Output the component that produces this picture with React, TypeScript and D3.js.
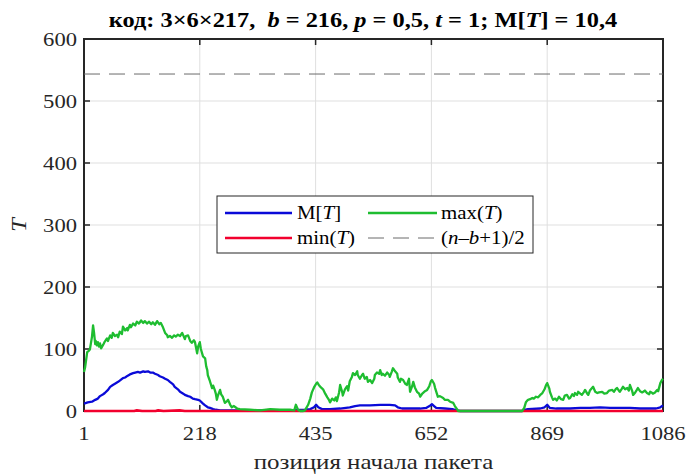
import React from "react";
import * as d3 from "d3";

// Axis ticks
const xTicks = [1, 218, 435, 652, 869, 1086];
const yTicks = [0, 100, 200, 300, 400, 500, 600];

// Reference level (n - b + 1) / 2
const halfLevel = 543.5;

// M[T] — mean, [position, value]
const meanT: [number, number][] = [
  [1, 12], [8, 14], [16, 15], [22, 18], [27, 20], [31, 24], [37, 27], [40, 29], [46, 34], [50, 39],
  [55, 42], [59, 44], [65, 47], [68, 49], [74, 53], [78, 54], [83, 57], [87, 59], [93, 61], [97, 62],
  [102, 63], [106, 62], [112, 64], [115, 63], [121, 64], [125, 62], [130, 62], [134, 60], [140, 58],
  [143, 56], [149, 54], [153, 52], [158, 50], [162, 47], [168, 43], [171, 39], [177, 35], [181, 31],
  [187, 28], [190, 26], [196, 24], [200, 23], [205, 20], [209, 19], [215, 18], [218, 17], [224, 12],
  [228, 9], [233, 6], [237, 5], [243, 3], [248, 2], [256, 1], [275, 1], [331, 1], [387, 1], [415, 2],
  [425, 3], [432, 6], [436, 10], [440, 6], [447, 3], [462, 3], [481, 4], [499, 6], [509, 8], [518, 9],
  [537, 9], [556, 10], [574, 10], [584, 9], [589, 6], [597, 4], [612, 4], [631, 4], [642, 5], [650, 9],
  [653, 11], [657, 8], [661, 5], [677, 4], [691, 3], [700, 1], [706, 0], [822, 0], [826, 2], [833, 3],
  [856, 4], [864, 6], [869, 10], [874, 5], [886, 4], [912, 4], [931, 5], [949, 5], [968, 6], [987, 5],
  [1005, 5], [1024, 5], [1043, 4], [1062, 4], [1073, 4], [1081, 6], [1086, 9],
];

// min(T)
const minT: [number, number][] = [
  [1, 0], [95, 0], [100, 1], [110, 0], [135, 0], [140, 1], [150, 0], [180, 1], [190, 0],
  [400, 0], [700, 0], [822, 0], [1086, 0],
];

// max(T)
const maxT: [number, number][] = [
  [1, 63], [3, 70], [7, 95], [10, 97], [12, 99], [16, 120], [18, 138], [20, 125], [22, 108], [23, 113],
  [25, 106], [27, 111], [29, 104], [31, 109], [33, 101], [37, 107], [40, 112], [44, 117], [46, 113],
  [50, 122], [53, 118], [55, 126], [59, 121], [63, 123], [65, 119], [68, 128], [72, 124], [74, 136],
  [78, 130], [82, 134], [83, 130], [87, 139], [89, 135], [93, 141], [97, 138], [100, 144], [104, 141],
  [108, 146], [112, 142], [115, 145], [119, 141], [123, 144], [127, 140], [130, 143], [134, 139],
  [138, 145], [142, 140], [145, 142], [149, 135], [153, 126], [157, 122], [158, 119], [162, 121],
  [166, 118], [170, 122], [173, 120], [177, 123], [181, 121], [185, 126], [188, 120], [190, 116],
  [192, 121], [196, 122], [200, 113], [203, 110], [207, 114], [209, 111], [213, 93], [215, 104],
  [218, 111], [220, 100], [224, 88], [228, 85], [230, 72], [232, 66], [233, 58], [237, 48], [241, 37],
  [243, 41], [246, 34], [248, 28], [250, 18], [252, 25], [256, 34], [258, 27], [261, 23], [265, 13],
  [269, 16], [271, 18], [275, 10], [278, 6], [282, 8], [288, 4], [293, 3], [312, 2], [331, 1], [350, 3],
  [368, 2], [387, 2], [395, 1], [398, 10], [402, 2], [406, 0], [412, 0], [415, 1], [421, 10], [425, 20],
  [428, 30], [432, 38], [436, 44], [438, 46], [441, 42], [445, 38], [449, 35], [453, 28], [457, 22],
  [460, 18], [462, 14], [466, 20], [470, 17], [473, 22], [475, 16], [479, 30], [481, 42], [485, 30],
  [486, 25], [490, 35], [494, 40], [496, 33], [499, 48], [503, 55], [505, 61], [509, 58], [513, 64],
  [514, 58], [518, 52], [522, 58], [524, 60], [527, 52], [531, 55], [533, 47], [537, 50], [541, 45],
  [545, 52], [546, 58], [550, 62], [554, 60], [556, 66], [559, 58], [561, 60], [565, 57], [569, 62],
  [573, 58], [574, 55], [578, 64], [580, 69], [584, 64], [588, 60], [589, 54], [593, 47], [595, 52],
  [599, 50], [603, 44], [606, 42], [610, 52], [612, 31], [616, 40], [618, 47], [621, 38], [625, 31],
  [629, 28], [631, 23], [634, 27], [636, 29], [640, 32], [644, 34], [648, 40], [651, 48], [653, 50],
  [657, 44], [659, 37], [663, 26], [664, 23], [668, 24], [674, 21], [677, 18], [683, 18], [687, 15],
  [693, 13], [696, 8], [700, 3], [702, 0], [822, 0], [826, 5], [829, 14], [833, 18], [837, 19],
  [841, 21], [844, 20], [848, 23], [852, 22], [856, 26], [860, 29], [864, 35], [867, 42], [869, 45],
  [873, 36], [874, 31], [878, 22], [880, 18], [884, 20], [887, 17], [891, 23], [895, 19], [899, 18],
  [902, 25], [906, 26], [910, 20], [912, 21], [916, 27], [919, 24], [921, 29], [925, 26], [927, 31],
  [931, 28], [934, 26], [938, 31], [940, 34], [944, 28], [946, 26], [949, 33], [953, 37], [955, 39],
  [959, 31], [963, 29], [966, 30], [972, 31], [976, 28], [981, 29], [985, 33], [991, 34], [994, 31],
  [998, 36], [1000, 37], [1004, 32], [1005, 31], [1009, 36], [1011, 39], [1015, 35], [1019, 37],
  [1022, 33], [1024, 42], [1028, 33], [1030, 26], [1034, 30], [1037, 34], [1039, 37], [1043, 32],
  [1047, 30], [1049, 31], [1052, 33], [1056, 29], [1060, 27], [1062, 31], [1066, 29], [1067, 28],
  [1071, 30], [1075, 34], [1077, 32], [1081, 45], [1084, 50], [1086, 52],
];

const W = 687;
const H = 474;
const M = { left: 84, right: 663, top: 39, bottom: 411 };

const FONT = '"Liberation Serif", "DejaVu Serif", serif';
const AX = "#262626";
const GRID = "#dfdfdf";
const C_MEAN = "#0a0ad8";
const C_MAX = "#1ebd30";
const C_MIN = "#f2002e";
const C_DASH = "#6a6a6a";

// glyphs are drawn slightly wider than tall
const SX = 1.16;

type TxtProps = {
  x: number;
  y: number;
  size: number;
  anchor?: "start" | "middle" | "end";
  rotate?: number;
  weight?: string;
  italic?: boolean;
  fill?: string;
  children: React.ReactNode;
};

function Txt({ x, y, size, anchor = "start", rotate = 0, weight, italic, fill = AX, children }: TxtProps) {
  const tf = rotate
    ? `translate(${x},${y}) rotate(${rotate}) scale(${SX},1)`
    : `translate(${x},${y}) scale(${SX},1)`;
  return (
    <text
      transform={tf}
      fontSize={size}
      textAnchor={anchor}
      fontWeight={weight}
      fontStyle={italic ? "italic" : undefined}
      fill={fill}
      style={{ fontFamily: FONT, whiteSpace: "pre" }}
    >
      {children}
    </text>
  );
}

export default function App() {
  const x = d3.scaleLinear().domain([1, 1086]).range([M.left, M.right]);
  const y = d3.scaleLinear().domain([0, 600]).range([M.bottom, M.top]);
  const line = d3
    .line<[number, number]>()
    .x((d) => x(d[0]))
    .y((d) => y(d[1]));

  const tickLen = 6;

  // legend layout
  const lg = { x: 217, y: 196, w: 316, h: 57 };
  const row1 = lg.y + 17;
  const row2 = lg.y + 42;
  const c1 = { x0: lg.x + 8, x1: lg.x + 75, tx: lg.x + 80 };
  const c2 = { x0: lg.x + 151, x1: lg.x + 220, tx: lg.x + 224 };
  const lgSize = 18;

  return (
    <svg
      width={W}
      height={H}
      viewBox={`0 0 ${W} ${H}`}
      style={{ position: "absolute", left: 0, top: 0, background: "#fff" }}
    >
      <rect x={0} y={0} width={W} height={H} fill="#fff" />

      {/* grid */}
      {xTicks.slice(1, -1).map((t) => (
        <line key={"gx" + t} x1={x(t)} x2={x(t)} y1={M.top} y2={M.bottom} stroke={GRID} strokeWidth={1} />
      ))}
      {yTicks.slice(1, -1).map((t) => (
        <line key={"gy" + t} x1={M.left} x2={M.right} y1={y(t)} y2={y(t)} stroke={GRID} strokeWidth={1} />
      ))}

      {/* ticks, inward on all sides */}
      {xTicks.map((t) => (
        <g key={"tx" + t}>
          <line x1={x(t)} x2={x(t)} y1={M.bottom} y2={M.bottom - tickLen} stroke={AX} strokeWidth={1.5} />
          <line x1={x(t)} x2={x(t)} y1={M.top} y2={M.top + tickLen} stroke={AX} strokeWidth={1.5} />
        </g>
      ))}
      {yTicks.map((t) => (
        <g key={"ty" + t}>
          <line x1={M.left} x2={M.left + tickLen} y1={y(t)} y2={y(t)} stroke={AX} strokeWidth={1.5} />
          <line x1={M.right} x2={M.right - tickLen} y1={y(t)} y2={y(t)} stroke={AX} strokeWidth={1.5} />
        </g>
      ))}

      {/* box */}
      <rect
        x={M.left}
        y={M.top}
        width={M.right - M.left}
        height={M.bottom - M.top}
        fill="none"
        stroke={AX}
        strokeWidth={2}
      />

      {/* reference level */}
      <line
        x1={M.left}
        x2={M.right}
        y1={y(halfLevel)}
        y2={y(halfLevel)}
        stroke={C_DASH}
        strokeWidth={1}
        strokeDasharray="16,9"
      />

      {/* series */}
      <path d={line(meanT) ?? ""} fill="none" stroke={C_MEAN} strokeWidth={2.3} strokeLinejoin="round" />
      <path d={line(minT) ?? ""} fill="none" stroke={C_MIN} strokeWidth={2.6} strokeLinejoin="round" />
      <path d={line(maxT) ?? ""} fill="none" stroke={C_MAX} strokeWidth={2.3} strokeLinejoin="round" />

      {/* tick labels */}
      {xTicks.map((t) => (
        <Txt key={"lx" + t} x={x(t)} y={M.bottom + 29} size={19.5} anchor="middle">
          {t}
        </Txt>
      ))}
      {yTicks.map((t) => (
        <Txt key={"ly" + t} x={M.left - 7} y={y(t) + 7} size={19.5} anchor="end">
          {t}
        </Txt>
      ))}

      {/* axis labels */}
      <Txt x={(M.left + M.right) / 2} y={469} size={21.5} anchor="middle">
        позиция начала пакета
      </Txt>
      <Txt x={26} y={(M.top + M.bottom) / 2} size={21.5} anchor="middle" rotate={-90} italic>
        T
      </Txt>

      {/* title */}
      <Txt x={363} y={27} size={21} anchor="middle" weight="bold" fill="#000">
        <tspan>{"код: 3×6×217,  "}</tspan>
        <tspan fontStyle="italic">b</tspan>
        <tspan>{" = 216, "}</tspan>
        <tspan fontStyle="italic">p</tspan>
        <tspan>{" = 0,5, "}</tspan>
        <tspan fontStyle="italic">t</tspan>
        <tspan>{" = 1; M["}</tspan>
        <tspan fontStyle="italic">T</tspan>
        <tspan>{"] = 10,4"}</tspan>
      </Txt>

      {/* legend */}
      <g>
        <rect x={lg.x} y={lg.y} width={lg.w} height={lg.h} fill="#fff" stroke={AX} strokeWidth={1} />
        <line x1={c1.x0} x2={c1.x1} y1={row1} y2={row1} stroke={C_MEAN} strokeWidth={2.3} />
        <Txt x={c1.tx} y={row1 + 6} size={lgSize} fill="#000">
          M[<tspan fontStyle="italic">T</tspan>]
        </Txt>
        <line x1={c2.x0} x2={c2.x1} y1={row1} y2={row1} stroke={C_MAX} strokeWidth={2.3} />
        <Txt x={c2.tx} y={row1 + 6} size={lgSize} fill="#000">
          max(<tspan fontStyle="italic">T</tspan>)
        </Txt>
        <line x1={c1.x0} x2={c1.x1} y1={row2} y2={row2} stroke={C_MIN} strokeWidth={2.6} />
        <Txt x={c1.tx} y={row2 + 6} size={lgSize} fill="#000">
          min(<tspan fontStyle="italic">T</tspan>)
        </Txt>
        <line
          x1={c2.x0}
          x2={c2.x1}
          y1={row2}
          y2={row2}
          stroke={C_DASH}
          strokeWidth={1}
          strokeDasharray="16,9"
        />
        <Txt x={c2.tx} y={row2 + 6} size={lgSize} fill="#000">
          (<tspan fontStyle="italic">n</tspan>–<tspan fontStyle="italic">b</tspan>+1)/2
        </Txt>
      </g>
    </svg>
  );
}
